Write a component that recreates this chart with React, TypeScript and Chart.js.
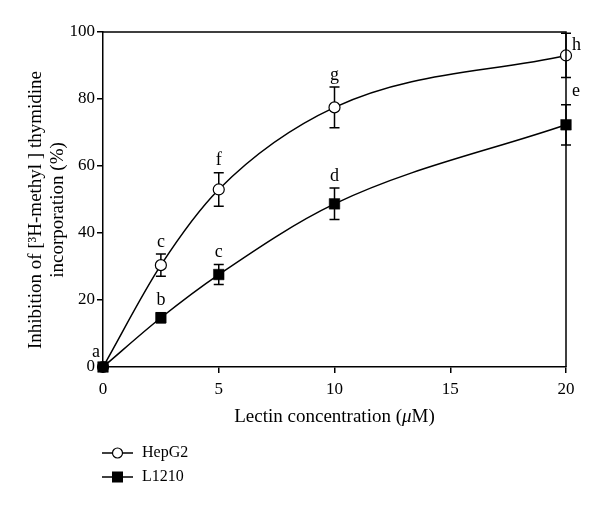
import React, { useEffect, useRef } from "react";
import { Chart, registerables } from "chart.js";

Chart.register(...registerables);

// ---- data ----
const concentrations = [0, 2.5, 5, 10, 20];
const hepg2Values = [0, 30.4, 53, 77.5, 93];
const hepg2Errors = [0, 3.3, 5, 6.1, 6.6];
const l1210Values = [0, 14.7, 27.6, 48.7, 72.3];
const l1210Errors = [0, 1.5, 3, 4.7, 6];
const hepg2Letters = ["", "c", "f", "g", "h"];
const l1210Letters = ["a", "b", "c", "d", "e"];
const seriesNames = ["HepG2", "L1210"];
const xTitle = ["Lectin concentration (", "μ", "M)"];
const yTitleLines = ["Inhibition of [³H-methyl ] thymidine", "incorporation (%)"];

const FONT = "'Liberation Serif', 'Times New Roman', serif";

// letter placements (pixel offsets) keyed by series/index
const letterPlacement: Record<string, { dx: number; dy: number; align?: CanvasTextAlign }> = {
  "1-0": { dx: -7, dy: -15 },
  "0-4": { dx: 6, dy: -10, align: "left" },
  "1-4": { dx: 6, dy: -34, align: "left" },
};

const decorPlugin = {
  id: "decor",
  beforeDatasetsDraw(chart: any) {
    const ctx = chart.ctx;
    const xs = chart.scales.x;
    const ys = chart.scales.y;
    ctx.save();
    ctx.strokeStyle = "#000";
    ctx.lineWidth = 1.5;
    const sets = [
      [hepg2Values, hepg2Errors],
      [l1210Values, l1210Errors],
    ];
    sets.forEach(([vals, errs]) => {
      concentrations.forEach((c, i) => {
        if (!errs[i]) return;
        const x = xs.getPixelForValue(c);
        const yTop = ys.getPixelForValue(Math.min(vals[i] + errs[i], 100));
        const yBot = ys.getPixelForValue(vals[i] - errs[i]);
        ctx.beginPath();
        ctx.moveTo(x, yTop);
        ctx.lineTo(x, yBot);
        ctx.moveTo(x - 5, yTop);
        ctx.lineTo(x + 5, yTop);
        ctx.moveTo(x - 5, yBot);
        ctx.lineTo(x + 5, yBot);
        ctx.stroke();
      });
    });
    ctx.restore();
  },
  afterDraw(chart: any) {
    const ctx = chart.ctx;
    const xs = chart.scales.x;
    const ys = chart.scales.y;
    const area = chart.chartArea;
    ctx.save();
    // frame top & right
    ctx.strokeStyle = "#000";
    ctx.lineWidth = 1.5;
    ctx.beginPath();
    ctx.moveTo(area.left, area.top);
    ctx.lineTo(area.right, area.top);
    ctx.lineTo(area.right, area.bottom);
    ctx.stroke();

    // letters
    ctx.fillStyle = "#000";
    ctx.font = `18px ${FONT}`;
    ctx.textBaseline = "middle";
    const letterSets = [
      [hepg2Values, hepg2Errors, hepg2Letters],
      [l1210Values, l1210Errors, l1210Letters],
    ] as const;
    letterSets.forEach(([vals, errs, letters], s) => {
      concentrations.forEach((c, i) => {
        const L = (letters as string[])[i];
        if (!L) return;
        const x = xs.getPixelForValue(c);
        const place = letterPlacement[`${s}-${i}`];
        if (place) {
          ctx.textAlign = place.align || "center";
          const y = ys.getPixelForValue((vals as number[])[i]);
          ctx.fillText(L, x + place.dx, y + place.dy);
        } else {
          ctx.textAlign = "center";
          const yTop = ys.getPixelForValue((vals as number[])[i] + (errs as number[])[i]);
          ctx.fillText(L, x, yTop - 12);
        }
      });
    });

    // x title with italic mu
    const xc = (area.left + area.right) / 2;
    const ty = 417;
    ctx.textAlign = "left";
    ctx.textBaseline = "middle";
    const fN = `19px ${FONT}`;
    const fI = `italic 19px ${FONT}`;
    ctx.font = fN;
    const w0 = ctx.measureText(xTitle[0]).width;
    const w2 = ctx.measureText(xTitle[2]).width;
    ctx.font = fI;
    const w1 = ctx.measureText(xTitle[1]).width;
    let sx = xc - (w0 + w1 + w2) / 2;
    ctx.font = fN;
    ctx.fillText(xTitle[0], sx, ty);
    sx += w0;
    ctx.font = fI;
    ctx.fillText(xTitle[1], sx, ty);
    sx += w1;
    ctx.font = fN;
    ctx.fillText(xTitle[2], sx, ty);

    // y title
    ctx.save();
    ctx.translate(0, 210);
    ctx.rotate(-Math.PI / 2);
    ctx.textAlign = "center";
    ctx.font = fN;
    ctx.fillText(yTitleLines[0], 0, 36);
    ctx.fillText(yTitleLines[1], 0, 58);
    ctx.restore();

    // legend
    const legendY = [453, 477];
    chart.data.datasets.forEach((ds: any) => {
      const idx = seriesNames.indexOf(ds.label);
      const y = legendY[idx];
      ctx.strokeStyle = "#000";
      ctx.lineWidth = 1.5;
      ctx.beginPath();
      ctx.moveTo(102, y);
      ctx.lineTo(133, y);
      ctx.stroke();
      ctx.beginPath();
      if (ds.pointStyle === "circle") {
        ctx.arc(117.5, y, 5, 0, Math.PI * 2);
        ctx.fillStyle = "#fff";
        ctx.fill();
        ctx.lineWidth = 1.2;
        ctx.stroke();
      } else {
        ctx.fillStyle = "#000";
        ctx.fillRect(112, y - 5.5, 11, 11);
      }
      ctx.fillStyle = "#000";
      ctx.font = `16px ${FONT}`;
      ctx.textAlign = "left";
      ctx.textBaseline = "middle";
      ctx.fillText(ds.label, 142, y);
    });
    ctx.restore();
  },
};

export default function App() {
  const ref = useRef<HTMLCanvasElement>(null);
  useEffect(() => {
    if (!ref.current) return;
    const axisCommon = {
      grid: {
        display: true,
        drawOnChartArea: false,
        drawTicks: true,
        tickLength: 6,
        color: "#000",
        lineWidth: 1.5,
      },
      border: { display: true, color: "#000", width: 1.5 },
    };
    const chart = new Chart(ref.current, {
      type: "line",
      data: {
        datasets: [
          {
            label: seriesNames[0],
            data: concentrations.map((c, i) => ({ x: c, y: hepg2Values[i] })),
            borderColor: "#000",
            borderWidth: 1.5,
            pointStyle: "circle",
            pointRadius: 5.5,
            pointBackgroundColor: "#fff",
            pointBorderColor: "#000",
            pointBorderWidth: 1.2,
            cubicInterpolationMode: "monotone",
            fill: false,
            clip: false,
            order: 1,
          },
          {
            label: seriesNames[1],
            data: concentrations.map((c, i) => ({ x: c, y: l1210Values[i] })),
            borderColor: "#000",
            borderWidth: 1.5,
            pointStyle: "rect",
            pointRadius: 7.5,
            pointBackgroundColor: "#000",
            pointBorderColor: "#000",
            pointBorderWidth: 0.5,
            cubicInterpolationMode: "monotone",
            fill: false,
            clip: false,
            order: 0,
          },
        ],
      },
      options: {
        responsive: false,
        animation: false,
        layout: { padding: { top: 32, right: 34, left: 0, bottom: 101 } },
        plugins: { legend: { display: false }, tooltip: { enabled: false } },
        scales: {
          x: {
            type: "linear",
            min: 0,
            max: 20,
            ...axisCommon,
            ticks: { stepSize: 5, color: "#000", padding: 6, font: { family: FONT, size: 17 } },
            afterFit: (s: any) => {
              s.height = 40;
            },
          },
          y: {
            type: "linear",
            min: 0,
            max: 100,
            ...axisCommon,
            ticks: { stepSize: 20, color: "#000", padding: 2, font: { family: FONT, size: 17 } },
            afterFit: (s: any) => {
              s.width = 103;
            },
          },
        },
      },
      plugins: [decorPlugin],
    } as any);
    return () => chart.destroy();
  }, []);
  return (
    <div style={{ position: "absolute", left: 0, top: 0, width: 600, height: 508, background: "#fff" }}>
      <canvas ref={ref} width={600} height={508} style={{ display: "block" }} />
    </div>
  );
}
